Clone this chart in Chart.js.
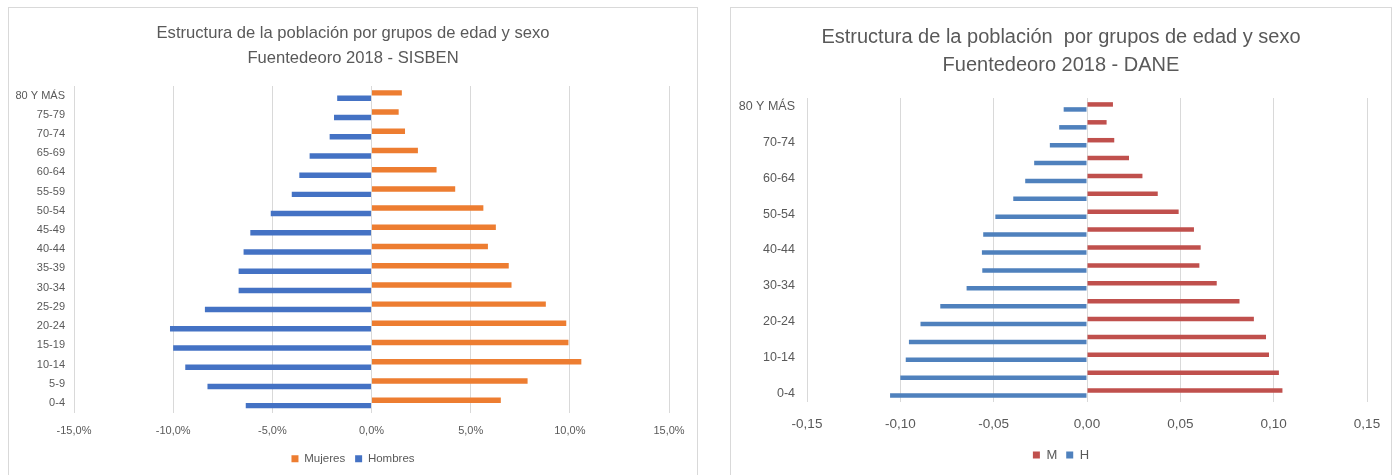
<!DOCTYPE html>
<html>
<head>
<meta charset="utf-8">
<script src="https://cdn.jsdelivr.net/npm/chart.js@4.4.1/dist/chart.umd.min.js"></script>
<style>
  html, body { margin: 0; padding: 0; background: #ffffff; }
  .marco {
    position: absolute;
    border: 1px solid #d9d9d9;
    border-bottom: none;
    background: #ffffff;
  }
  #marcoSisben { left: 8px; top: 7px; width: 688px; height: 468px; }
  #marcoDane { left: 730px; top: 7px; width: 660px; height: 468px; }
  canvas { display: block; }
</style>
</head>
<body>
<div class="marco" id="marcoSisben"><canvas id="graficaSisben" width="688" height="467"></canvas></div>
<div class="marco" id="marcoDane"><canvas id="graficaDane" width="660" height="467"></canvas></div>
<script>
// grupos de edad, de arriba hacia abajo
const gruposEdad = [
  "80 Y MÁS", "75-79", "70-74", "65-69", "60-64", "55-59", "50-54", "45-49",
  "40-44", "35-39", "30-34", "25-29", "20-24", "15-19", "10-14", "5-9", "0-4",
];

// SISBEN (porcentaje)
const sisbenMujeres = [1.53, 1.37, 1.69, 2.34, 3.28, 4.22, 5.64, 6.27, 5.87, 6.92, 7.06, 8.79, 9.82, 9.93, 10.58, 7.87, 6.52];
const sisbenHombres = [-1.73, -1.89, -2.11, -3.12, -3.64, -4.02, -5.08, -6.11, -6.45, -6.7, -6.7, -8.4, -10.16, -10.0, -9.39, -8.27, -6.34];
const sisbenTicks = [-15, -10, -5, 0, 5, 10, 15];

// DANE (proporción)
const daneM = [0.0139, 0.0105, 0.0146, 0.0225, 0.0297, 0.0379, 0.0491, 0.0573, 0.0609, 0.0602, 0.0695, 0.0817, 0.0894, 0.0959, 0.0975, 0.1028, 0.1047];
const daneH = [-0.0125, -0.0149, -0.0199, -0.0283, -0.0331, -0.0395, -0.0491, -0.0556, -0.0563, -0.0561, -0.0645, -0.0786, -0.0892, -0.0954, -0.0971, -0.1, -0.1055];
const daneTicks = [-0.15, -0.1, -0.05, 0, 0.05, 0.1, 0.15];

const textoGris = "#595959";
const rejilla = "#d9d9d9";
const fuente = "'Liberation Sans', Arial, sans-serif";

Chart.defaults.font.family = fuente;
Chart.defaults.color = textoGris;

new Chart(document.getElementById("graficaSisben"), {
  type: "bar",
  data: {
    labels: gruposEdad,
    datasets: [
      {
        label: "Mujeres",
        data: sisbenMujeres,
        backgroundColor: "#ed7d31",
        categoryPercentage: 0.57,
        barPercentage: 1.0,
      },
      {
        label: "Hombres",
        data: sisbenHombres,
        backgroundColor: "#4472c4",
        categoryPercentage: 0.57,
        barPercentage: 1.0,
      },
    ],
  },
  options: {
    indexAxis: "y",
    responsive: false,
    animation: false,
    layout: { padding: { top: 0, left: 0, right: 0, bottom: 0.5 } },
    plugins: {
      title: {
        display: true,
        text: ["Estructura de la población por grupos de edad y sexo", "Fuentedeoro 2018 - SISBEN"],
        color: textoGris,
        font: { size: 16.6, weight: "normal", lineHeight: 25 / 16.6 },
        padding: { top: 12.5, bottom: 15.5 },
      },
      legend: {
        position: "bottom",
        labels: {
          boxWidth: 7,
          boxHeight: 7,
          padding: 10,
          color: textoGris,
          font: { size: 11.5 },
        },
      },
      tooltip: { enabled: false },
    },
    scales: {
      x: {
        min: -15,
        max: 15,
        afterBuildTicks: (scale) => {
          scale.ticks = sisbenTicks.map((v) => ({ value: v }));
        },
        afterFit: (scale) => {
          scale.paddingRight = 28;
          scale.height = 30.5;
        },
        ticks: {
          color: textoGris,
          font: { size: 11 },
          padding: 12,
          callback: (v) => v.toFixed(1).replace(".", ",") + "%",
        },
        grid: { color: rejilla, drawTicks: false },
        border: { display: false },
      },
      y: {
        afterFit: (scale) => {
          scale.width = 65;
        },
        ticks: { color: textoGris, font: { size: 11 }, padding: 9, autoSkip: false },
        grid: { display: false, drawTicks: false },
        border: { display: false },
      },
    },
  },
});

new Chart(document.getElementById("graficaDane"), {
  type: "bar",
  data: {
    labels: gruposEdad,
    datasets: [
      {
        label: "M",
        data: daneM,
        backgroundColor: "#c0504d",
        categoryPercentage: 0.56,
        barPercentage: 0.9,
      },
      {
        label: "H",
        data: daneH,
        backgroundColor: "#4f81bd",
        categoryPercentage: 0.56,
        barPercentage: 0.9,
      },
    ],
  },
  options: {
    indexAxis: "y",
    responsive: false,
    animation: false,
    layout: { padding: { top: 0, left: 0, right: 0, bottom: 3.5 } },
    plugins: {
      title: {
        display: true,
        text: ["Estructura de la población  por grupos de edad y sexo", "Fuentedeoro 2018 - DANE"],
        color: textoGris,
        font: { size: 20, weight: "normal", lineHeight: 28 / 20 },
        padding: { top: 15, bottom: 19 },
      },
      legend: {
        position: "bottom",
        labels: {
          boxWidth: 7,
          boxHeight: 7,
          padding: 9,
          color: textoGris,
          font: { size: 13 },
        },
      },
      tooltip: { enabled: false },
    },
    scales: {
      x: {
        min: -0.15,
        max: 0.15,
        afterBuildTicks: (scale) => {
          scale.ticks = daneTicks.map((v) => ({ value: v }));
        },
        afterFit: (scale) => {
          scale.paddingRight = 24;
          scale.height = 37.5;
        },
        ticks: {
          color: textoGris,
          font: { size: 13.5 },
          padding: 14,
          callback: (v) => v.toFixed(2).replace(".", ","),
        },
        grid: { color: rejilla, drawTicks: false },
        border: { display: false },
      },
      y: {
        afterFit: (scale) => {
          scale.width = 76;
        },
        ticks: {
          color: textoGris,
          font: { size: 12.5 },
          padding: 12,
          autoSkip: false,
          callback: function (v, i) {
            return i % 2 === 0 ? this.getLabelForValue(v) : "";
          },
        },
        grid: { display: false, drawTicks: false },
        border: { display: false },
      },
    },
  },
});
</script>
</body>
</html>
